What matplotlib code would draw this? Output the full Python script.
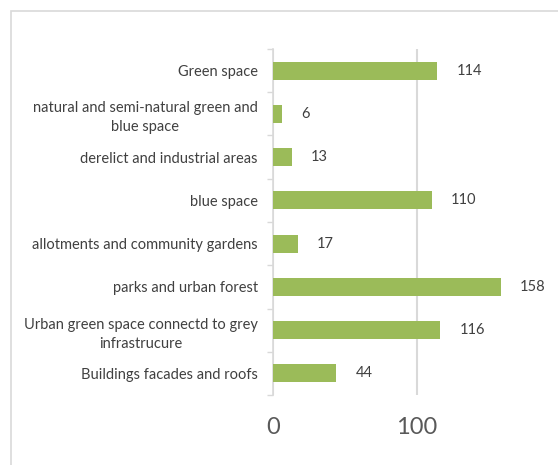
import matplotlib.pyplot as plt
from matplotlib.patches import Rectangle

categories = [
    "Green space",
    "natural and semi-natural green and\nblue space",
    "derelict and industrial areas",
    "blue space",
    "allotments and community gardens",
    "parks and urban forest",
    "Urban green space connectd to grey\ninfrastrucure",
    "Buildings facades and roofs",
]
counts = [114, 6, 13, 110, 17, 158, 116, 44]
x_ticks = [0, 100]

plt.rcParams['font.family'] = ['Lato', 'DejaVu Sans']

fig = plt.figure(figsize=(5.58, 4.65), dpi=100)
fig.patches.append(Rectangle((11 / 558, -0.05), 1.1, 1 - 11 / 465 + 0.05,
                             transform=fig.transFigure, fill=False,
                             edgecolor='#D9D9D9', linewidth=1.2))

ax = fig.add_axes([273 / 558, 1 - 395 / 465, 0.98 - 273 / 558, (395 - 49) / 465])

pos = list(range(len(categories)))
ax.barh(pos, counts, height=0.42, color='#9BBB59', zorder=3)
ax.set_ylim(len(categories) - 0.5, -0.5)
ax.set_xlim(0, 190)

for p, v in zip(pos, counts):
    ax.annotate(str(v), (v, p), xytext=(14, 0), textcoords='offset points',
                ha='left', va='center', fontsize=10.5, color='#404040')

ax.set_yticks(pos)
ax.set_yticklabels(categories, fontsize=10.5, color='#404040',
                   multialignment='center', linespacing=1.45)
ax.tick_params(axis='y', length=0, pad=11)
ax.set_yticks([p - 0.5 for p in pos] + [len(pos) - 0.5], minor=True)
ax.tick_params(axis='y', which='minor', length=4, color='#D9D9D9', width=1)

ax.set_xticks(x_ticks)
ax.set_xticklabels([str(t) for t in x_ticks], fontsize=17, color='#595959')
ax.tick_params(axis='x', length=0, pad=16)
ax.grid(axis='x', color='#D9D9D9', linewidth=1.5, zorder=0)

for s in ['top', 'right', 'bottom']:
    ax.spines[s].set_visible(False)
ax.spines['left'].set_color('#D9D9D9')
ax.spines['left'].set_linewidth(1.2)

fig.savefig('out.png', dpi=100)
